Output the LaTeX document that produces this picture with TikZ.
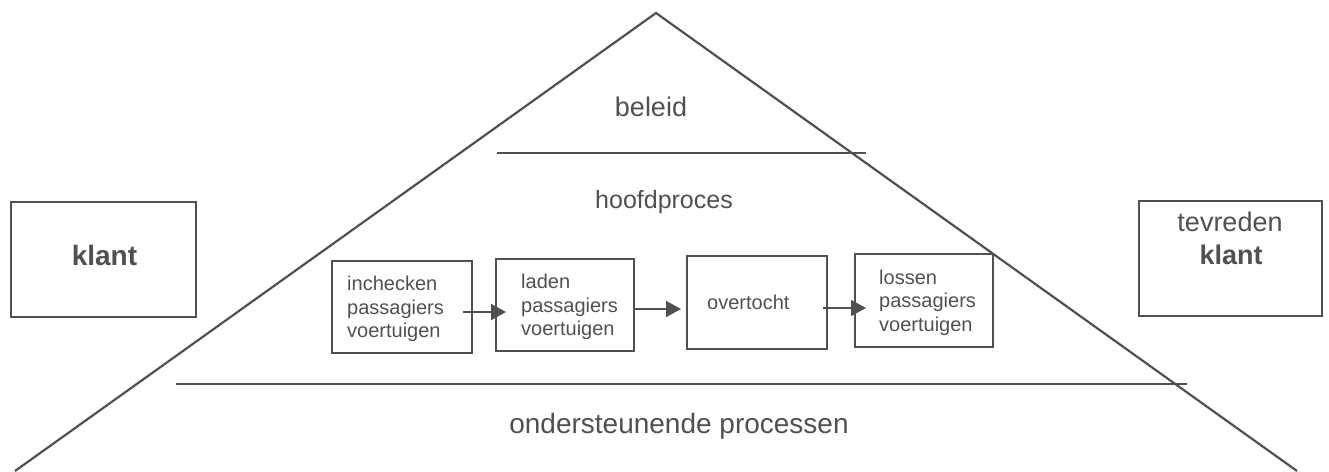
\documentclass[tikz,border=0pt]{standalone}
\usepackage{fontspec}
\setmainfont{Liberation Sans}
\usetikzlibrary{arrows.meta,calc}
\definecolor{ink}{RGB}{80,80,80}
\begin{document}
\begin{tikzpicture}[x=1pt,y=-1pt,
  ln/.style={draw=ink,line width=2.2pt},
  box/.style={draw=ink,line width=2pt,rectangle,inner sep=0pt},
  boxtxt/.style={text=ink,font=\fontsize{20}{23.5}\selectfont,align=left,inner sep=0pt,anchor=west},
  bigtxt/.style={text=ink,font=\fontsize{27}{33}\selectfont,inner sep=0pt,anchor=base},
  arr/.style={draw=ink,line width=2pt,-{Triangle[length=15pt,width=16pt]}}]
\useasboundingbox (0,0) rectangle (1329,471);
\clip (0,0) rectangle (1329,471);
% pyramid
\coordinate (apex) at (656,13);
\coordinate (bl) at (15,471);
\coordinate (br) at (1297,471);
\draw[ln,line join=miter] (bl) -- (apex) -- (br);
\coordinate (l1a) at (497,153);
\coordinate (l1b) at (866,153);
\draw[ln] (l1a) -- (l1b);
\coordinate (l2a) at (176,384);
\coordinate (l2b) at (1187,384);
\draw[ln] (l2a) -- (l2b);
% layer labels
\node[bigtxt] (beleid) at (651,116) {beleid};
\node[bigtxt,font=\fontsize{25}{30}\selectfont] (hoofd) at (664,208) {hoofdproces};
\node[bigtxt,font=\fontsize{28}{33}\selectfont] (onder) at (679,433) {ondersteunende processen};
% process boxes
\node[box,minimum width=140pt,minimum height=92pt] (b1) at (402,307) {};
\node[box,minimum width=138pt,minimum height=92pt] (b2) at (565,305) {};
\node[box,minimum width=140pt,minimum height=93pt] (b3) at (757,302.5) {};
\node[box,minimum width=138pt,minimum height=93pt] (b4) at (924,300.5) {};
\node[boxtxt] (t1) at ($(b1.west)+(16,2)$) {inchecken\\passagiers\\voertuigen};
\node[boxtxt] (t2) at ($(b2.west)+(26,2)$) {laden\\passagiers\\voertuigen};
\node[boxtxt] (t3) at ($(b3.west)+(21,0)$) {overtocht};
\node[boxtxt] (t4) at ($(b4.west)+(25,2)$) {lossen\\passagiers\\voertuigen};
% arrows
\draw[arr] ($(b1.east)+(-10,5)$) -- ($(b2.west)+(11,7)$);
\draw[arr] ($(b2.east)+(0,4)$) -- ($(b3.west)+(-5,6.5)$);
\draw[arr] ($(b3.east)+(-5,5.5)$) -- ($(b4.west)+(12,7.5)$);
% customer boxes
\node[box,minimum width=185pt,minimum height=115pt] (klant) at (103.5,259.5) {};
\node[bigtxt,font=\fontsize{28}{33}\bfseries] (kt) at (104.5,265) {klant};
\node[box,minimum width=183pt,minimum height=115pt] (tev) at (1230.5,258.5) {};
\node[bigtxt] (tt1) at (1230,231) {tevreden};
\node[bigtxt,font=\fontsize{27}{33}\bfseries] (tt2) at (1231,264) {klant};
\end{tikzpicture}
\end{document}
